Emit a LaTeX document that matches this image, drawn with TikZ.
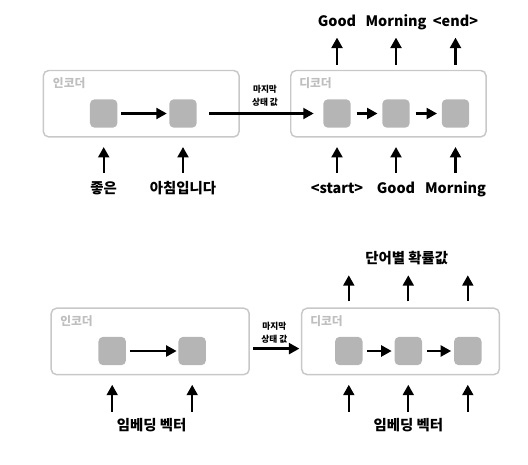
\documentclass[tikz,border=0pt]{standalone}
\usepackage{fontspec}
\setmainfont{Noto Sans CJK KR}
\usetikzlibrary{arrows.meta}
\definecolor{panelgray}{RGB}{200,200,200}
\definecolor{cellgray}{RGB}{181,181,181}
\definecolor{namegray}{RGB}{190,190,190}
\tikzset{
  panel/.style={draw=panelgray, line width=1.1pt, rounded corners=4pt, minimum width=#1, minimum height=49.8pt, inner sep=0pt},
  cell/.style={fill=cellgray, rounded corners=3.5pt, minimum width=20.6pt, minimum height=21.3pt, inner sep=0pt},
  panelname/.style={text=namegray, font=\bfseries\fontsize{8.8}{10}\selectfont, anchor=west, inner sep=0pt},
  word/.style={font=\bfseries\fontsize{10.8}{12}\selectfont, inner sep=0pt, text height=8pt, text depth=2pt},
  note/.style={font=\bfseries\fontsize{6.5}{9.6}\selectfont, align=center, inner sep=0pt},
  arr/.style={-{Triangle[length=7.8pt,width=8.2pt]}, line width=1.7pt}
}
\begin{document}
\begin{tikzpicture}[x=0.75pt,y=0.75pt,yscale=-1,xscale=1]
    \useasboundingbox (0,0) rectangle (528,464);
    
    %% top: encoder-decoder with words
    \node[panel=146.8pt] (tenc) at (141.2,103.7) {};
    \node[panel=146.5pt] (tdec) at (388.4,103.7) {};
    \node[panelname] (tencname) at (52.7,83) {인코더};
    \node[panelname] (tdecname) at (299,83) {디코더};
    % cells
    \node[cell] (te1) at (103.7,113.5) {};
    \node[cell] (te2) at (183,113.5) {};
    \node[cell] (td1) at (337,113.5) {};
    \node[cell] (td2) at (396,113.5) {};
    \node[cell] (td3) at (455.5,113.5) {};
    % words
    \node[word] (tin1) at (103.7,189.3) {좋은};
    \node[word] (tin2) at (183,189.3) {아침입니다};
    \node[word] (tin3) at (337,189.3) {<start>};
    \node[word] (tin4) at (396,189.3) {Good};
    \node[word] (tin5) at (455.5,189.3) {Morning};
    \node[word] (tout1) at (337,22.7) {Good};
    \node[word] (tout2) at (396,22.7) {Morning};
    \node[word] (tout3) at (455.5,22.7) {<end>};
    \node[note] (tlast) at (265,95.5) {마지막\\상태 값};
    % connectors
    \draw[arr, shorten <=2.5pt, shorten >=1.7pt] (te1) -- (te2);
    \draw[arr, shorten <=4.2pt, shorten >=3.4pt] (td1) -- (td2);
    \draw[arr, shorten <=4.2pt, shorten >=3.4pt] (td2) -- (td3);
    \draw[arr, shorten <=9.2pt, shorten >=7pt] (te2) -- (td1);
    \draw[arr, shorten <=7.2pt, shorten >=14.3pt] (tin1) -- (te1);
    \draw[arr, shorten <=7.2pt, shorten >=14.3pt] (tin2) -- (te2);
    \draw[arr, shorten <=7.2pt, shorten >=14.3pt] (tin3) -- (td1);
    \draw[arr, shorten <=7.2pt, shorten >=14.3pt] (tin4) -- (td2);
    \draw[arr, shorten <=7.2pt, shorten >=14.3pt] (tin5) -- (td3);
    \draw[arr, shorten <=25.7pt, shorten >=6pt] (td1) -- (tout1);
    \draw[arr, shorten <=25.7pt, shorten >=6pt] (td2) -- (tout2);
    \draw[arr, shorten <=25.7pt, shorten >=6pt] (td3) -- (tout3);
    
    %% bottom: encoder-decoder with vectors
    \node[panel=148.5pt] (benc) at (150.2,341.4) {};
    \node[panel=148.2pt] (bdec) at (400.5,341.4) {};
    \node[panelname] (bencname) at (60,320.7) {인코더};
    \node[panelname] (bdecname) at (310,320.7) {디코더};
    % cells
    \node[cell] (be1) at (112.2,351) {};
    \node[cell] (be2) at (192.2,351) {};
    \node[cell] (bd1) at (348.8,351) {};
    \node[cell] (bd2) at (408.3,351) {};
    \node[cell] (bd3) at (467.8,351) {};
    % words
    \node[word] (bemb1) at (151.7,426.7) {임베딩 벡터};
    \node[word] (bemb2) at (408.3,426.7) {임베딩 벡터};
    \node[word] (bprob) at (406.7,259.3) {단어별 확률값};
    \node[note] (blast) at (274.3,333) {마지막\\상태 값};
    % connectors
    \draw[arr, shorten <=2.5pt, shorten >=1.2pt] (be1) -- (be2);
    \draw[arr, shorten <=3.5pt, shorten >=2pt] (bd1) -- (bd2);
    \draw[arr, shorten <=3.5pt, shorten >=2pt] (bd2) -- (bd3);
    \draw[arr, shorten <=2.6pt, shorten >=1.2pt] ([yshift=-1.8pt]benc.east |- be2) -- ([yshift=-1.8pt]bdec.west |- bd1);
    \foreach \c/\t in {be1/bemb1, be2/bemb1, bd1/bemb2, bd2/bemb2, bd3/bemb2}
      \draw[arr, shorten <=6.2pt, shorten >=14.5pt] (\c |- \t.north) -- (\c);
    \foreach \c in {bd1, bd2, bd3}
      \draw[arr, shorten <=26.3pt, shorten >=6.8pt] (\c) -- (\c |- bprob.south);
    
\end{tikzpicture}
\end{document}
